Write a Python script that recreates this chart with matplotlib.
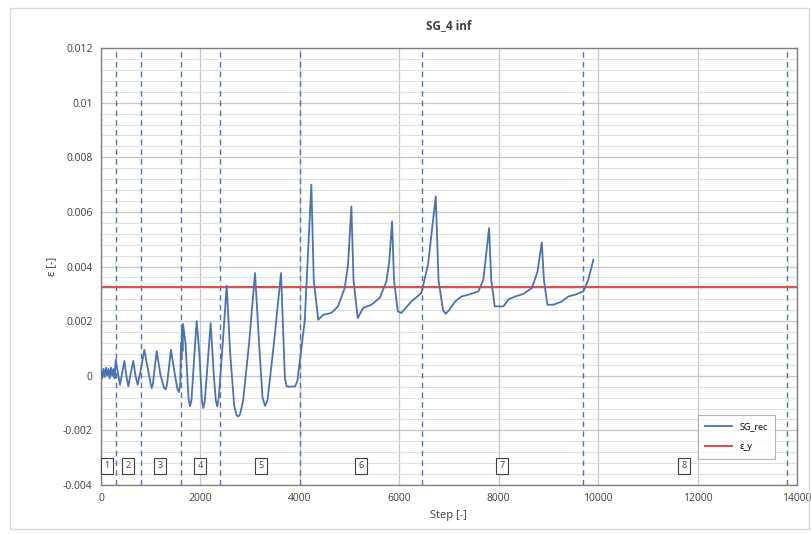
import matplotlib
matplotlib.use("Agg")
import matplotlib.pyplot as plt
from matplotlib.patches import Rectangle

# ---- data ----
step = [0, 25, 50, 75, 100, 125, 150, 175, 200, 225, 250, 275, 296,
        340, 382, 425, 470, 510, 550, 600, 650, 695, 738, 800, 872,
        950, 1000, 1020, 1045, 1120, 1200, 1270, 1300, 1330, 1408, 1490, 1540, 1570, 1595,
        1610, 1620, 1630, 1640, 1650,
        1700, 1760, 1791, 1820, 1880, 1925, 1980, 2030, 2058, 2090, 2160, 2207, 2270,
        2310, 2340, 2370, 2450, 2529,
        2600, 2680, 2730, 2763, 2800, 2860, 2980, 3099, 3180, 3250, 3300, 3350, 3480,
        3622, 3700, 3736, 3820, 3903, 3950, 4004, 4098, 4232,
        4280, 4370, 4467, 4634, 4768, 4903, 4970, 5037, 5080, 5165, 5272, 5439, 5607,
        5741, 5800, 5855, 5895, 5970, 6043, 6244, 6445, 6579, 6734,
        6790, 6880, 6935, 7000, 7123, 7250, 7391, 7592, 7692, 7807, 7850, 7920, 8095,
        8200, 8330, 8500, 8666, 8780, 8867, 8910, 8980, 9100, 9270, 9400, 9537, 9705,
        9800, 9906]
sg_rec = [0.0002, -0.0001, 0.00025, -0.00005, 0.0003, 0.0, 0.00025, -0.0001, 0.0003, 0.0,
          0.00025, -0.0001, 0.00059,
          0.0001, -0.00033, 0.0001, 0.00054, 0.0, -0.00039, 0.0001, 0.00054, 0.0, -0.00033,
          0.0002, 0.00095,
          0.0002, -0.0003, -0.00045, -0.0003, 0.0009, 0.0, -0.00045, -0.0005, -0.0003,
          0.00095, 0.0, -0.0005, -0.0006, -0.0003,
          0.0012, 0.0006, 0.0017, 0.0009, 0.0019,
          0.0012, -0.0008, -0.00112, -0.0009, 0.0008, 0.0020, 0.0008, -0.0009, -0.00118,
          -0.0009, 0.0008, 0.00193, 0.0, -0.0009, -0.00112, -0.0008, 0.0012, 0.0033,
          0.0008, -0.0011, -0.00145, -0.0015, -0.0014, -0.0009, 0.0012, 0.00376, 0.0012,
          -0.0008, -0.0011, -0.0009, 0.0012, 0.00376, -0.0001, -0.00039, -0.0004, -0.00039,
          -0.0002, 0.00059, 0.0020, 0.0070,
          0.0035, 0.00205, 0.00223, 0.0023, 0.00254, 0.00321, 0.00407, 0.0062, 0.0035,
          0.00211, 0.00248, 0.0026, 0.00285, 0.00345, 0.0042, 0.00565, 0.0035, 0.00236,
          0.0023, 0.00272, 0.00303, 0.00407, 0.00657,
          0.0035, 0.0024, 0.00227, 0.0024, 0.00272, 0.0029, 0.00297, 0.00309, 0.00352,
          0.00541, 0.0035, 0.00254, 0.00254, 0.0028, 0.0029, 0.0030, 0.00321, 0.0038,
          0.00488, 0.0035, 0.0026, 0.0026, 0.00272, 0.0029, 0.00297, 0.00309, 0.0035,
          0.00425]
eps_y = 0.00326
phase_bounds = [300, 800, 1600, 2400, 4000, 6450, 9700, 13800]
phase_labels = ["1", "2", "3", "4", "5", "6", "7", "8"]
phase_label_x = [120, 540, 1190, 1990, 3220, 5230, 8070, 11730]
phase_label_y = -0.0033
xticks = [0, 2000, 4000, 6000, 8000, 10000, 12000, 14000]
xtick_labels = ["0", "2000", "4000", "6000", "8000", "10000", "12000", "14000"]
yticks = [-0.004, -0.002, 0.0, 0.002, 0.004, 0.006, 0.008, 0.01, 0.012]
ytick_labels = ["-0.004", "-0.002", "0", "0.002", "0.004", "0.006", "0.008", "0.01", "0.012"]

plt.rcParams['font.family'] = ['Open Sans', 'DejaVu Sans']

fig = plt.figure(figsize=(8.11, 5.34), dpi=100)
fig.patches.append(Rectangle((0.012, 0.01), 0.985, 0.975, transform=fig.transFigure,
                             fill=False, edgecolor='#d9d9d9', lw=1))
ax = fig.add_axes([0.1245, 0.0918, 0.8582, 0.8182])

ax.set_xlim(0, 14000)
ax.set_ylim(-0.004, 0.012)

ax.set_yticks([v * 0.0004 - 0.004 for v in range(41)], minor=True)
ax.set_xticks(xticks)
ax.set_xticklabels(xtick_labels)
ax.set_yticks(yticks)
ax.set_yticklabels(ytick_labels)
ax.grid(True, which='major', color='#c6c6c6', lw=0.9)
ax.grid(True, which='minor', axis='y', color='#e0e0e0', lw=0.8)
ax.tick_params(which='both', length=0, labelsize=7.5, colors='#404040', pad=6)
ax.set_axisbelow(True)
for s in ax.spines.values():
    s.set_color('#808080')
    s.set_linewidth(1.0)

for b in phase_bounds:
    ax.axvline(b, color='#4f74b8', lw=1.0, ls=(0, (4, 3)), zorder=2)

ax.plot(step, sg_rec, color='#4a72b8', lw=1.3, label='SG_rec', zorder=4,
        solid_joinstyle='round')
ax.axhline(eps_y, color='#d9534f', lw=1.5, label='ε_y', zorder=3)

for lx, lab in zip(phase_label_x, phase_labels):
    ax.text(lx, phase_label_y, lab, ha='center', va='center', fontsize=6.5, color='#404040',
            bbox=dict(boxstyle='square,pad=0.35', fc='white', ec='#404040', lw=0.8), zorder=5)

leg = ax.legend(loc='lower right', bbox_to_anchor=(0.975, 0.05), fontsize=6.5,
                frameon=True, fancybox=False, edgecolor='#a0a0a0', handlelength=3,
                borderpad=0.8, labelspacing=1.2)
leg.get_frame().set_linewidth(0.8)

ax.set_title('SG_4 inf', fontsize=8.5, fontweight='bold', color='#404040', pad=14)
ax.set_xlabel('Step [-]', fontsize=8, color='#404040', labelpad=4)
ax.set_ylabel('ε [-]', fontsize=8, color='#404040', labelpad=4)

fig.savefig('out.png', dpi=100)
